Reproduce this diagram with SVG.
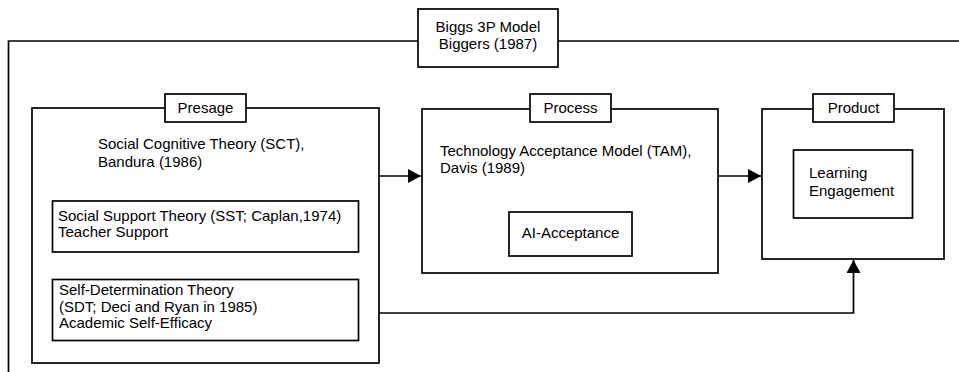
<svg xmlns="http://www.w3.org/2000/svg" width="959" height="372" viewBox="0 0 959 372">
<defs>
<marker id="arr" markerWidth="13" markerHeight="14" refX="13" refY="7" orient="auto" markerUnits="userSpaceOnUse">
<path d="M0,0 L13,7 L0,14 z" fill="#000"/>
</marker>
<style>
rect{fill:#fff;stroke:#000;stroke-width:1.7}
text{font-family:"Liberation Sans",Arial,sans-serif;font-size:15px;fill:#000}
.c{text-anchor:middle}
.ln{fill:none;stroke:#000;stroke-width:1.7}
</style>
</defs>
<rect x="0" y="0" width="959" height="372" style="stroke:none"/>
<g id="frame">
<path class="ln" d="M8.5,372 V41 H960"/>
</g>
<g id="title">
<rect x="418" y="9" width="140" height="58"/>
<text class="c" x="488" y="32">Biggs 3P Model</text>
<text class="c" x="488" y="49">Biggers (1987)</text>
</g>
<g id="connectors">
<path class="ln" d="M379,176 H421" marker-end="url(#arr)"/>
<path class="ln" d="M718,176 H761" marker-end="url(#arr)"/>
<path class="ln" d="M379,313 H853.5 V260" marker-end="url(#arr)"/>
</g>
<g id="presage">
<rect x="32" y="108" width="347" height="255"/>
<rect x="165" y="94" width="81" height="28"/>
<text class="c" x="205.5" y="113">Presage</text>
<text x="98" y="149">Social Cognitive Theory (SCT),</text>
<text x="98" y="166.5">Bandura (1986)</text>
</g>
<g id="sst">
<rect x="52.5" y="201" width="306" height="51"/>
<text x="58" y="221">Social Support Theory (SST; Caplan,1974)</text>
<text x="58" y="237">Teacher Support</text>
</g>
<g id="sdt">
<rect x="52.5" y="279.5" width="306" height="61"/>
<text x="59" y="295">Self-Determination Theory</text>
<text x="59" y="311.5">(SDT; Deci and Ryan in 1985)</text>
<text x="59" y="328">Academic Self-Efficacy</text>
</g>
<g id="process">
<rect x="422" y="109" width="296" height="164"/>
<rect x="530" y="94" width="81" height="28"/>
<text class="c" x="570.5" y="113">Process</text>
<text x="440" y="156">Technology Acceptance Model (TAM),</text>
<text x="440" y="173">Davis (1989)</text>
</g>
<g id="ai">
<rect x="509" y="212" width="123" height="44"/>
<text class="c" x="570.5" y="238">AI-Acceptance</text>
</g>
<g id="product">
<rect x="762" y="109" width="182" height="150"/>
<rect x="813" y="94" width="81" height="28"/>
<text class="c" x="853.5" y="113">Product</text>
</g>
<g id="engagement">
<rect x="793.5" y="150" width="119" height="68"/>
<text x="809" y="178">Learning</text>
<text x="809" y="196">Engagement</text>
</g>
</svg>
